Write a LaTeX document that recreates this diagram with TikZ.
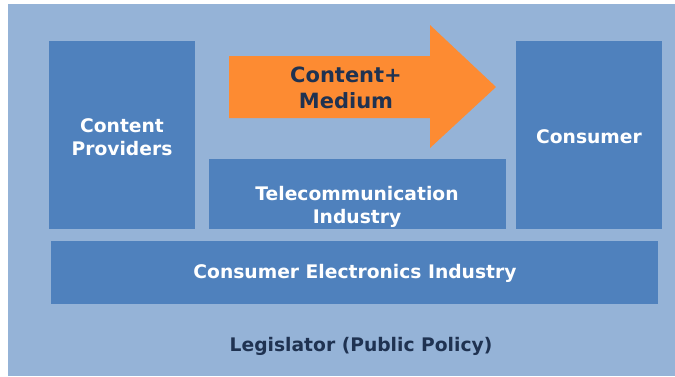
\documentclass[tikz,border=0pt]{standalone}
\usepackage{fontspec}
\setmainfont{DejaVu Sans}
\usepackage{tikz}
\usepackage{xcolor}
\usetikzlibrary{positioning, calc}

\definecolor{paleblue}{HTML}{95B3D7}
\definecolor{boxblue}{HTML}{4F81BD}
\definecolor{arroworange}{HTML}{FD8B32}
\definecolor{navytext}{HTML}{1F3251}

\begin{document}
\begin{tikzpicture}[x=1pt, y=-1pt,
    lbl/.style={font=\fontsize{18.7}{22.5}\selectfont\bfseries, text=white, align=center, inner sep=0pt},
    dlbl/.style={lbl, text=navytext}]
\useasboundingbox (0,0) rectangle (675,376);
% Policy frame
\fill[paleblue] (8,4) rectangle (675,376);

% Blocks
\fill[boxblue] (49,41) rectangle (195,229);
\fill[boxblue] (516,41) rectangle (662,229);
\fill[boxblue] (209,159) rectangle (506,229);
\fill[boxblue] (51,241) rectangle (658,304);

% Flow arrow
\fill[arroworange] (229,56) -- (430,56) -- (430,25) -- (496,87)
    -- (430,148) -- (430,118) -- (229,118) -- cycle;

% Labels
\node[lbl] (providers) at (122,137) {Content\\Providers};
\node[lbl] (consumer) at (589,137) {Consumer};
\node[lbl] (telecom) at (357,207) {Telecommunication\\Industry};
\node[lbl] (electronics) at (355,273) {Consumer Electronics Industry};
\node[dlbl, font=\fontsize{21}{26}\selectfont\bfseries] (flow) at (346,88) {Content+\\Medium};
\node[dlbl] (policy) at (361,346) {Legislator (Public Policy)};
\end{tikzpicture}
\end{document}
